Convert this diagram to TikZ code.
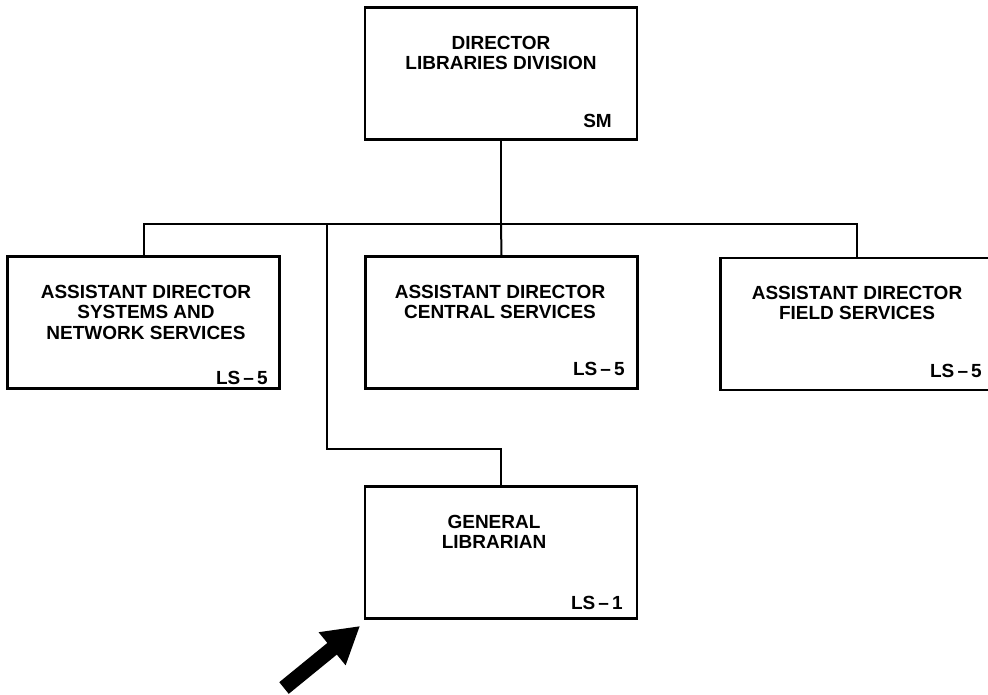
\documentclass[tikz,border=0pt]{standalone}
\usepackage{fontspec}
\setmainfont{Liberation Sans}
\usetikzlibrary{arrows.meta}

\begin{document}
\begin{tikzpicture}[x=1pt, y=-1pt,
	box/.style={draw, line width=2.4pt, minimum width=272pt, minimum height=132pt, inner sep=0pt},
	title/.style={align=center, inner sep=0pt, font=\fontsize{19}{20.5}\selectfont\bfseries},
	grade/.style={anchor=base east, inner sep=0pt, font=\fontsize{19}{20}\selectfont\bfseries},
	line/.style={line width=2pt}]
% fix the page
	\useasboundingbox (0,0) rectangle (988,694);
% draw boxes
	\node[box] (dir) at (501, 73.5) {};
	\node[box] (sys) at (143.5, 322.5) {};
	\node[box] (cen) at (501.5, 322.5) {};
	\node[box] (fld) at (856.5, 324) {};
	\node[box] (gen) at (501, 552.5) {};
% titles
	\node[title] (dir-t) at (501, 53) {DIRECTOR\\LIBRARIES DIVISION};
	\node[title] (sys-t) at (146, 312) {ASSISTANT DIRECTOR\\SYSTEMS AND\\NETWORK SERVICES};
	\node[title] (cen-t) at (500, 302) {ASSISTANT DIRECTOR\\CENTRAL SERVICES};
	\node[title] (fld-t) at (857, 303) {ASSISTANT DIRECTOR\\FIELD SERVICES};
	\node[title] (gen-t) at (494, 532) {GENERAL\\LIBRARIAN};
% grades
	\node[grade] (dir-g) at (612, 127) {SM};
	\node[grade] (sys-g) at (268, 384) {LS\,--\,5};
	\node[grade] (cen-g) at (625, 375) {LS\,--\,5};
	\node[grade] (fld-g) at (982, 377) {LS\,--\,5};
	\node[grade] (gen-g) at (623, 609) {LS\,--\,1};
% draw connectors
	\coordinate (bus) at (0, 224);
	\coordinate (tap) at (327, 224);
	\coordinate (bend) at (327, 449);
	\draw[line] (dir.south) -- (dir.south |- bus);
	\draw[line] (sys.north) |- (bus -| fld.north) -- (fld.north);
	\draw[line] (dir.south |- bus) -- (cen.north);
	\draw[line] (tap) -- (bend) -| (gen.north);
% pointer
	\coordinate (tail) at (284, 688);
	\coordinate (tip) at (360, 626);
	\draw[line width=15pt, -{Triangle[length=36pt, width=40pt]}] (tail) -- (tip);
\end{tikzpicture}
\end{document}
